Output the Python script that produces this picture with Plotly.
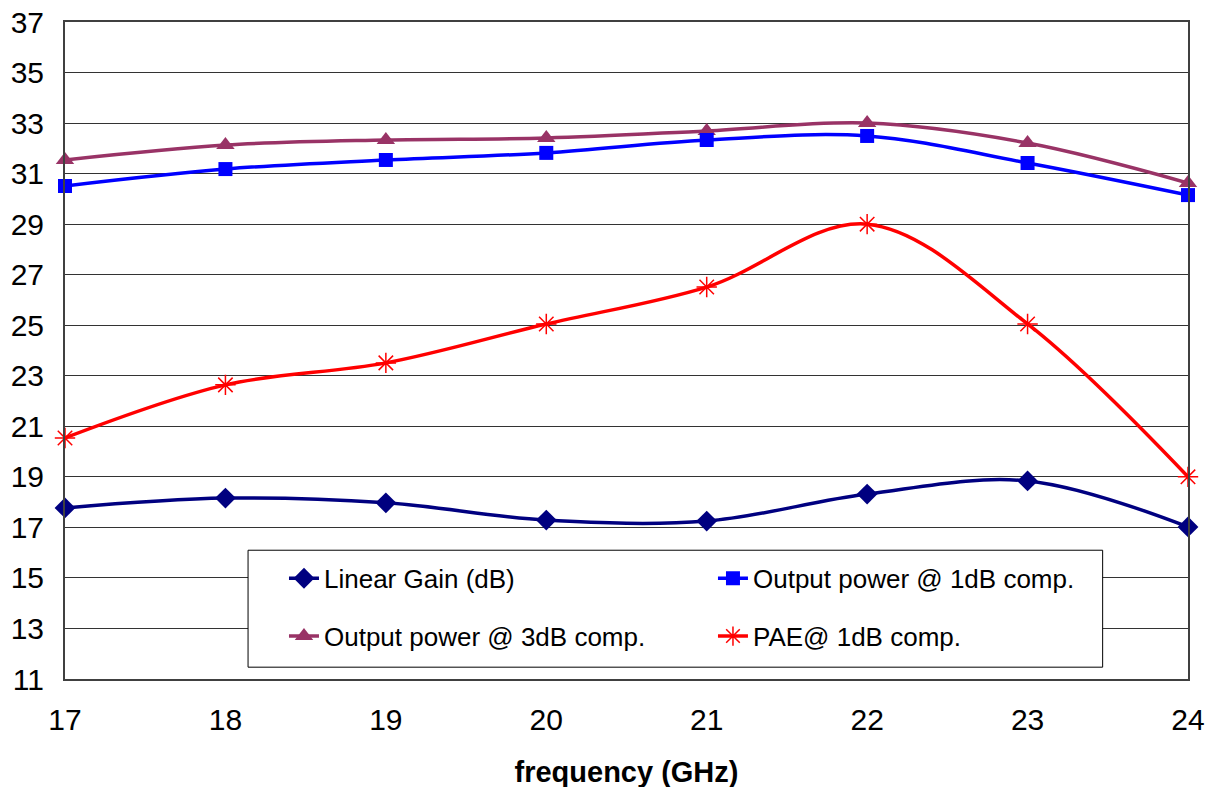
import plotly.graph_objects as go

freq = [17, 18, 19, 20, 21, 22, 23, 24]
linear_gain = [17.77, 18.16, 17.97, 17.29, 17.25, 18.32, 18.84, 17.02]
pout_1db = [30.51, 31.18, 31.54, 31.82, 32.33, 32.49, 31.42, 30.15]
pout_3db = [31.54, 32.13, 32.33, 32.41, 32.69, 33.00, 32.21, 30.63]
pae_1db = [20.54, 22.64, 23.51, 25.05, 26.51, 29.00, 25.05, 19.00]
y_ticks = list(range(11, 38, 2))
x_ticks = freq

FONT = "Liberation Sans, Arial, sans-serif"

fig = go.Figure()

def add(name, y, color, symbol, legend, group, msize=14, mline=None):
    marker = dict(symbol=symbol, size=msize, color=color)
    if mline:
        marker["line"] = dict(color=color, width=mline)
    fig.add_trace(go.Scatter(
        x=freq, y=y, name=name, mode="lines+markers",
        line=dict(color=color, width=3.5, shape="spline", smoothing=1),
        marker=marker, legend=legend, legendgroup=group, cliponaxis=False,
    ))

add("Linear Gain (dB)", linear_gain, "#000080", "diamond", "legend", "a", msize=16)
add("Output power @ 3dB comp.", pout_3db, "#993366", "triangle-up", "legend", "b", msize=16)
add("Output power @ 1dB comp.", pout_1db, "#0000FF", "square", "legend2", "c", msize=14)
add("PAE@ 1dB comp.", pae_1db, "#FF0000", "asterisk-open", "legend2", "d", msize=17, mline=1.5)

fig.add_shape(type="rect", xref="paper", yref="paper",
              x0=0.163, x1=0.924, y0=0.018, y1=0.196,
              fillcolor="white", line=dict(color="#000000", width=1), layer="above")

legend_common = dict(
    font=dict(family=FONT, size=26, color="black"),
    bgcolor="rgba(0,0,0,0)", borderwidth=0,
    traceorder="grouped", tracegroupgap=21,
    yanchor="top", xanchor="left", orientation="v",
)

fig.update_layout(
    width=1218, height=787,
    margin=dict(l=57, r=38, t=14, b=116),
    paper_bgcolor="white", plot_bgcolor="white",
    font=dict(family=FONT, color="black"),
    showlegend=True,
    legend=dict(x=0.195, y=0.189, **legend_common),
    legend2=dict(x=0.577, y=0.189, **legend_common),
    xaxis=dict(
        range=[17, 24], tickvals=x_ticks, ticktext=[str(v) for v in x_ticks],
        showgrid=False, zeroline=False, automargin=False, ticklabeloverflow="allow",
        showline=True, linecolor="#404040", linewidth=2, mirror=True,
        ticks="", ticklabelstandoff=13,
        tickfont=dict(family=FONT, size=30, color="black"),
        title=dict(text="<b>frequency (GHz)</b>", font=dict(family=FONT, size=29, color="black"), standoff=27),
    ),
    yaxis=dict(
        range=[11, 37], tickvals=y_ticks, ticktext=[str(v) for v in y_ticks],
        showgrid=True, gridcolor="#333333", gridwidth=1, zeroline=False, automargin=False,
        ticklabeloverflow="allow",
        showline=True, linecolor="#404040", linewidth=2, mirror=True,
        ticks="", ticklabelstandoff=13,
        tickfont=dict(family=FONT, size=30, color="black"),
    ),
)

fig.write_html("out.html")
